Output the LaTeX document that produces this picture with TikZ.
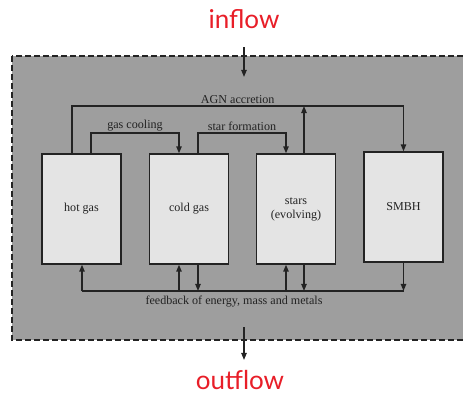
\documentclass[tikz,border=0pt]{standalone}
\usepackage{fontspec}
\setmainfont{Liberation Serif}
\newfontfamily\flowfont{Lato}
\usetikzlibrary{arrows.meta,positioning,calc}
\definecolor{flowred}{RGB}{232,30,40}
\definecolor{panelgray}{RGB}{158,158,158}
\definecolor{boxgray}{RGB}{228,228,228}
\definecolor{inkgray}{RGB}{35,35,35}

\begin{document}
\begin{tikzpicture}[x=0.025cm, y=-0.025cm, >={Triangle[length=5pt,width=3.8pt]},
  font=\fontsize{8.6}{10}\selectfont, color=inkgray, line width=1pt,
  reservoir/.style={draw=inkgray, fill=boxgray, line width=0.9pt, align=center,
    minimum width=1.975cm, minimum height=2.75cm, inner sep=0pt, text=inkgray},
  flowlabel/.style={font=\flowfont\fontsize{18.5}{20}\selectfont, text=flowred},
  pathlabel/.style={text=inkgray, inner sep=1pt}]
  %% Picture size
  \clip (0,0) rectangle (463,395);

  %% Dashed panel (right edge runs off the picture)
  \draw[fill=panelgray, line width=1.8pt, dash pattern=on 4.2pt off 2.2pt]
    (12,56) rectangle (480,340);

  %% Reservoirs
  \node[reservoir] (hot)   at (81.5,209) {hot gas};
  \node[reservoir] (cold)  at (189,209)  {cold gas};
  \node[reservoir] (stars) at (296,209)  {stars\\(evolving)};
  \node[reservoir] (smbh)  at (403.5,207) {SMBH};

  %% Junction points of the flow lines
  \coordinate (agnL) at (72,106);
  \coordinate (agnS) at (304,106);
  \coordinate (agnR) at (403.5,106);
  \coordinate (gcL)  at (91,133);
  \coordinate (gcR)  at (179,133);
  \coordinate (sfL)  at (198,133);
  \coordinate (sfR)  at (286,133);
  \coordinate (fbL)  at (82,291);
  \coordinate (fbR)  at (403.5,291);

  %% AGN accretion
  \draw[->] (hot.north -| agnL) -- (agnL) -- (agnR) -- (smbh.north);
  \draw[->] (stars.north -| agnS) -- (agnS);
  \node[pathlabel, above] (agnlbl) at ($(agnL)!0.5!(agnR)$) {AGN accretion};

  %% Gas cooling and star formation
  \draw[->] (hot.north -| gcL) -- (gcL) -- (gcR) -- (cold.north -| gcR);
  \node[pathlabel, above] (gclbl) at ($(gcL)!0.5!(gcR)$) {gas cooling};
  \draw[->] (cold.north -| sfL) -- (sfL) -- (sfR) -- (stars.north -| sfR);
  \node[pathlabel, above] (sflbl) at ($(sfL)!0.5!(sfR)$) {star formation};

  %% Feedback
  \draw (fbL) -- (fbR);
  \draw[->] (fbL) -- (hot.south -| fbL);
  \draw[->] (fbL -| gcR) -- (cold.south -| gcR);
  \draw[->] (cold.south -| sfL) -- (fbL -| sfL);
  \draw[->] (fbL -| sfR) -- (stars.south -| sfR);
  \draw[->] (stars.south -| agnS) -- (fbL -| agnS);
  \draw[->] (smbh.south) -- (fbR);
  \node[pathlabel, below=2pt] (fblbl) at (234,291)
    {feedback of energy, mass and metals};

  %% Inflow and outflow
  \node[flowlabel] (inflow)  at (244,19)  {inflow};
  \node[flowlabel] (outflow) at (240,380) {outflow};
  \coordinate (inTop) at (244,47);
  \coordinate (inBot) at (244,77);
  \coordinate (outTop) at (244,327);
  \coordinate (outBot) at (244,360);
  \draw[->] (inTop) -- (inBot);
  \draw[->] (outTop) -- (outBot);
\end{tikzpicture}
\end{document}
